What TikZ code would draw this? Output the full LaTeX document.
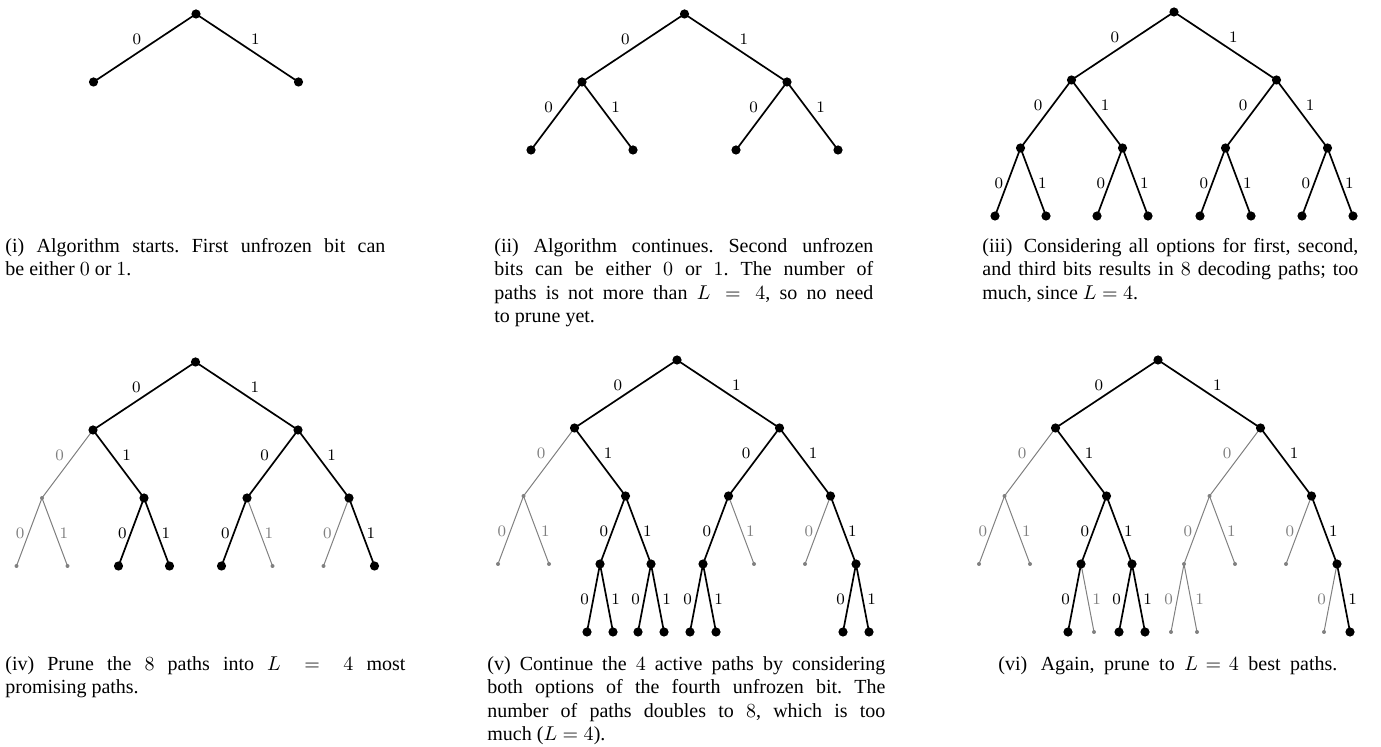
\documentclass[tikz,border=0pt]{standalone}
\usepackage[no-math]{fontspec}
\setmainfont{Liberation Serif}
\usetikzlibrary{calc}
\frenchspacing
\tikzset{
  blk/.style={line width=0.85pt, black},
  gry/.style={line width=0.5pt, black!50},
  lab/.style={inner sep=0pt, font=\fontsize{8}{9.6}\selectfont},
  captext/.style={inner sep=0pt, anchor=north west, align=justify, font=\fontsize{10}{11.75}\selectfont\frenchspacing},
}
% coordinates of a full binary tree: #1 name, #2 X, #3 Y, #4 depth
\newcommand\tcoords[4]{%
  \coordinate (#1-0-0) at (#2,#3);
  \foreach \k in {1,...,#4}{
    \pgfmathtruncatemacro\kp{\k-1}
    \pgfmathtruncatemacro\nmax{2^\k-1}
    \pgfmathsetmacro\dd{{102.5,51,25.5,13}[\k-1]}
    \foreach \i in {0,...,\nmax}{
      \pgfmathtruncatemacro\tp{floor(\i/2)}
      \pgfmathtruncatemacro\tb{mod(\i,2)}
      \coordinate (#1-\k-\i) at ([shift={({(2*\tb-1)*\dd},68)}]#1-\kp-\tp);
    }
  }
}
% edge from parent to node #2-#3 of tree #1 with style #4
\newcommand\tedge[4]{%
  \pgfmathtruncatemacro\tp{floor(#3/2)}%
  \pgfmathtruncatemacro\tb{mod(#3,2)}%
  \pgfmathtruncatemacro\tl{#2-1}%
  \ifnum#2<3 \def\tdy{-8.5}\def\tdxx{8}\else\def\tdy{1}\def\tdxx{9}\fi
  \ifnum\tb=0 \def\tdx{-\tdxx}\else\def\tdx{\tdxx}\fi
  \draw[#4] (#1-\tl-\tp) -- node[lab,shift={(\tdx,\tdy)}] {$\tb$} (#1-#2-#3);
}
\newcommand\blkdot[1]{\fill[black] (#1) circle (2.3pt);}
\newcommand\grydot[1]{\fill[black!50] (#1) circle (1pt);}
\begin{document}
\begin{tikzpicture}[x=0.5pt,y=-0.5pt]
\useasboundingbox (0,0) rectangle (1381,747);
% ---------- (i)
\tcoords{A}{196}{14}{1}
\foreach \k/\i in {1/0,1/1} {\tedge{A}{\k}{\i}{blk}}
\foreach \n in {0-0,1-0,1-1} {\blkdot{A-\n}}
% ---------- (ii)
\tcoords{B}{684.5}{14}{2}
\foreach \k/\i in {1/0,1/1,2/0,2/1,2/2,2/3} {\tedge{B}{\k}{\i}{blk}}
\foreach \n in {0-0,1-0,1-1,2-0,2-1,2-2,2-3} {\blkdot{B-\n}}
% ---------- (iii)
\tcoords{C}{1174}{12}{3}
\foreach \k/\i in {1/0,1/1,2/0,2/1,2/2,2/3,3/0,3/1,3/2,3/3,3/4,3/5,3/6,3/7} {\tedge{C}{\k}{\i}{blk}}
\foreach \n in {0-0,1-0,1-1,2-0,2-1,2-2,2-3,3-0,3-1,3-2,3-3,3-4,3-5,3-6,3-7} {\blkdot{C-\n}}
% ---------- (iv)
\tcoords{D}{195.5}{362}{3}
\foreach \k/\i in {2/0,3/0,3/1,3/5,3/6} {\tedge{D}{\k}{\i}{gry}}
\foreach \k/\i in {1/0,1/1,2/1,2/2,2/3,3/2,3/3,3/4,3/7} {\tedge{D}{\k}{\i}{blk}}
\foreach \n in {2-0,3-0,3-1,3-5,3-6} {\grydot{D-\n}}
\foreach \n in {0-0,1-0,1-1,2-1,2-2,2-3,3-2,3-3,3-4,3-7} {\blkdot{D-\n}}
% ---------- (v)
\tcoords{E}{677}{360}{4}
\foreach \k/\i in {2/0,3/0,3/1,3/5,3/6} {\tedge{E}{\k}{\i}{gry}}
\foreach \k/\i in {1/0,1/1,2/1,2/2,2/3,3/2,3/3,3/4,3/7,4/4,4/5,4/6,4/7,4/8,4/9,4/14,4/15} {\tedge{E}{\k}{\i}{blk}}
\foreach \n in {2-0,3-0,3-1,3-5,3-6} {\grydot{E-\n}}
\foreach \n in {0-0,1-0,1-1,2-1,2-2,2-3,3-2,3-3,3-4,3-7,4-4,4-5,4-6,4-7,4-8,4-9,4-14,4-15} {\blkdot{E-\n}}
% ---------- (vi)
\tcoords{F}{1158}{360}{4}
\foreach \k/\i in {2/0,2/2,3/0,3/1,3/4,3/5,3/6,4/5,4/8,4/9,4/14} {\tedge{F}{\k}{\i}{gry}}
\foreach \k/\i in {1/0,1/1,2/1,2/3,3/2,3/3,3/7,4/4,4/6,4/7,4/15} {\tedge{F}{\k}{\i}{blk}}
\foreach \n in {2-0,2-2,3-0,3-1,3-4,3-5,3-6,4-5,4-8,4-9,4-14} {\grydot{F-\n}}
\foreach \n in {0-0,1-0,1-1,2-1,2-3,3-2,3-3,3-7,4-4,4-6,4-7,4-15} {\blkdot{F-\n}}
% ---------- captions
\node[captext,text width=190pt] (capA) at (5,238) {(i) Algorithm starts. First unfrozen bit can\linebreak be either $0$ or $1$.};
\node[captext,text width=189.5pt] (capB) at (494,238) {(ii) Algorithm continues. Second unfrozen\linebreak bits can be either $0$ or $1$. The number of\linebreak paths is not more than $L=4$, so no need\linebreak to prune yet.};
\node[captext,text width=188pt] (capC) at (982,238) {(iii)\hspace{2pt} Considering all options for first, second,\linebreak and third bits results in $8$ decoding paths; too\linebreak much, since $L=4$.};
\node[captext,text width=200pt] (capD) at (5,656) {(iv) Prune the $8$ paths into $L=4$ most\linebreak promising paths.};
\node[captext,text width=199pt] (capE) at (487,656) {(v) Continue the $4$ active paths by considering\linebreak both options of the fourth unfrozen bit. The\linebreak number of paths doubles to $8$, which is too\linebreak much ($L=4$).};
\node[inner sep=0pt, anchor=north west, font=\fontsize{10}{11.75}\selectfont] (capF) at (998,656) {\thickmuskip=7mu\makebox[169.5pt][s]{(vi)\hspace{2pt} Again, prune to $L=4$ best paths.}};
\end{tikzpicture}
\end{document}
